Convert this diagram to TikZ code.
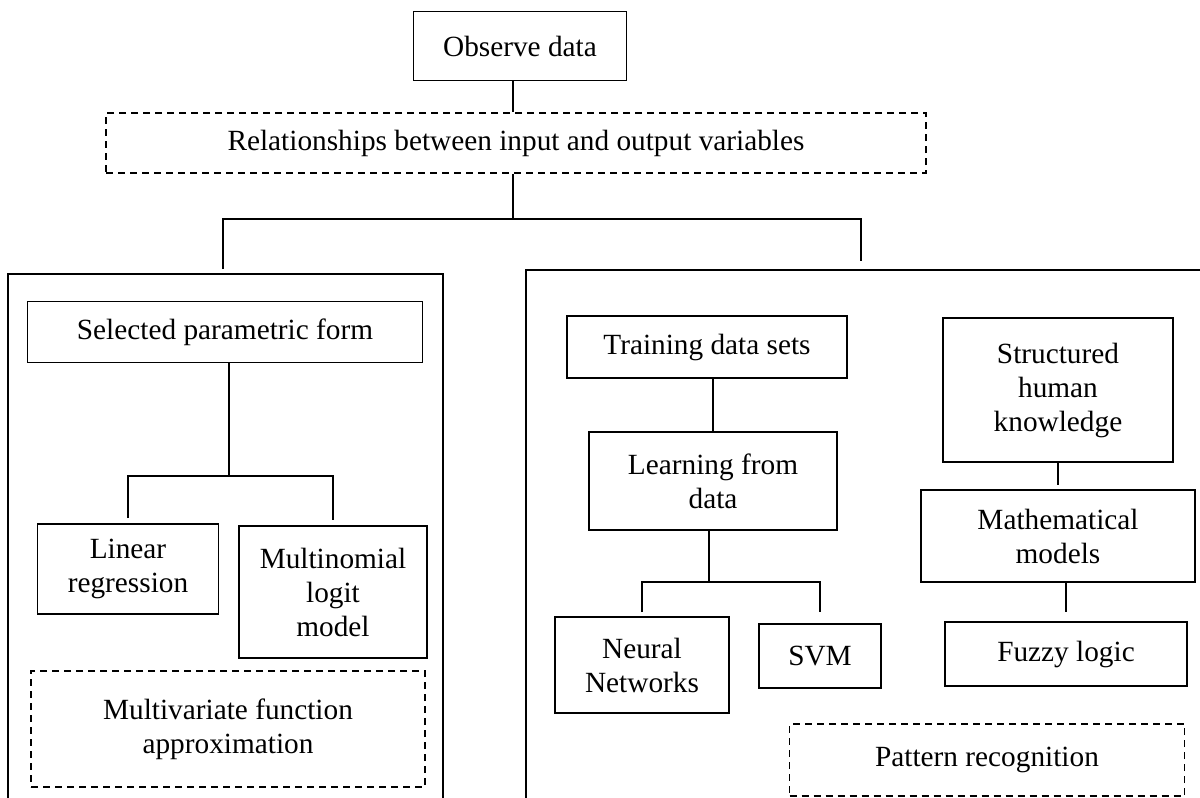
\documentclass[tikz,border=0pt]{standalone}
\usepackage{fontspec}
\setmainfont{Liberation Serif}

\begin{document}
\begin{tikzpicture}[x = 1pt, y = -1pt, font = \fontsize{29.3}{34}\selectfont,
                    box/.style = {draw, line width = 1.8pt, align = center, inner sep = 4pt},
                    dashbox/.style = {box, line width = 1.6pt, dash pattern = on 7pt off 5pt},
                    link/.style = {line width = 1.8pt},
                    panel/.style = {line width = 2.6pt}]
                        \useasboundingbox (0, 0) rectangle (1200, 798);
                        \node [box, minimum width = 213pt, minimum height = 69pt] (obs) at (520, 46) {Observe data};
                        \node [dashbox, minimum width = 820pt, minimum height = 60pt] (rel) at (516, 143) {Relationships between input and output variables};
                        \draw [panel] (8, 805) -- (8, 274) -- (443, 274) -- (443, 805);
                        \draw [panel] (526, 805) -- (526, 270) -- (1205, 270);
                        \coordinate (split) at (513, 219);
                        \coordinate (lp) at (223, 269);
                        \coordinate (rp) at (861, 261);
                        \draw [link] (obs.south -| split) -- (rel.north -| split);
                        \draw [link] (rel.south -| split) -- (split);
                        \draw [link] (lp) |- (split) -| (rp);
                        \node [box, minimum width = 395pt, minimum height = 61pt] (sel) at (225, 332) {Selected parametric form};
                        \node [box, minimum width = 181pt, minimum height = 90pt] (lin) at (128, 569) {Linear\\regression};
                        \node [box, minimum width = 188pt, minimum height = 132pt] (mnl) at (333, 592) {Multinomial\\logit\\model};
                        \node [dashbox, minimum width = 394pt, minimum height = 116pt] (mfa) at (228, 729) {Multivariate function\\approximation};
                        \coordinate (lbar) at (229, 476);
                        \draw [link] (sel.south -| lbar) -- (lbar);
                        \draw [link] ([yshift = 5pt]lin.north) |- (lbar) -| ([yshift = 5pt]mnl.north);
                        \node [box, minimum width = 280pt, minimum height = 62pt] (tds) at (707, 347) {Training data sets};
                        \node [box, minimum width = 248pt, minimum height = 98pt] (lfd) at (713, 481) {Learning from\\data};
                        \node [box, minimum width = 174pt, minimum height = 96pt] (nn) at (642, 665) {Neural\\Networks};
                        \node [box, minimum width = 122pt, minimum height = 64pt] (svm) at (820, 656) {SVM};
                        \draw [link] (tds.south -| lfd.north) -- (lfd.north);
                        \coordinate (rbar) at (709, 582);
                        \draw [link] (lfd.south -| rbar) -- (rbar);
                        \draw [link] ([yshift = 4pt]nn.north) |- (rbar) -| ([yshift = 11pt]svm.north);
                        \node [box, minimum width = 230pt, minimum height = 144pt] (shk) at (1058, 390) {Structured\\human\\knowledge};
                        \node [box, minimum width = 274pt, minimum height = 92pt] (mm) at (1058, 536) {Mathematical\\models};
                        \node [box, minimum width = 242pt, minimum height = 64pt] (fl) at (1066, 654) {Fuzzy logic};
                        \node [dashbox, minimum width = 395pt, minimum height = 72pt] (pr) at (987, 760) {Pattern recognition};
                        \draw [link] (shk.south) -- ([yshift = 4pt]mm.north);
                        \draw [link] (mm.south -| fl) -- ([yshift = 9pt]fl.north);
                  \end{tikzpicture}
\end{document}
